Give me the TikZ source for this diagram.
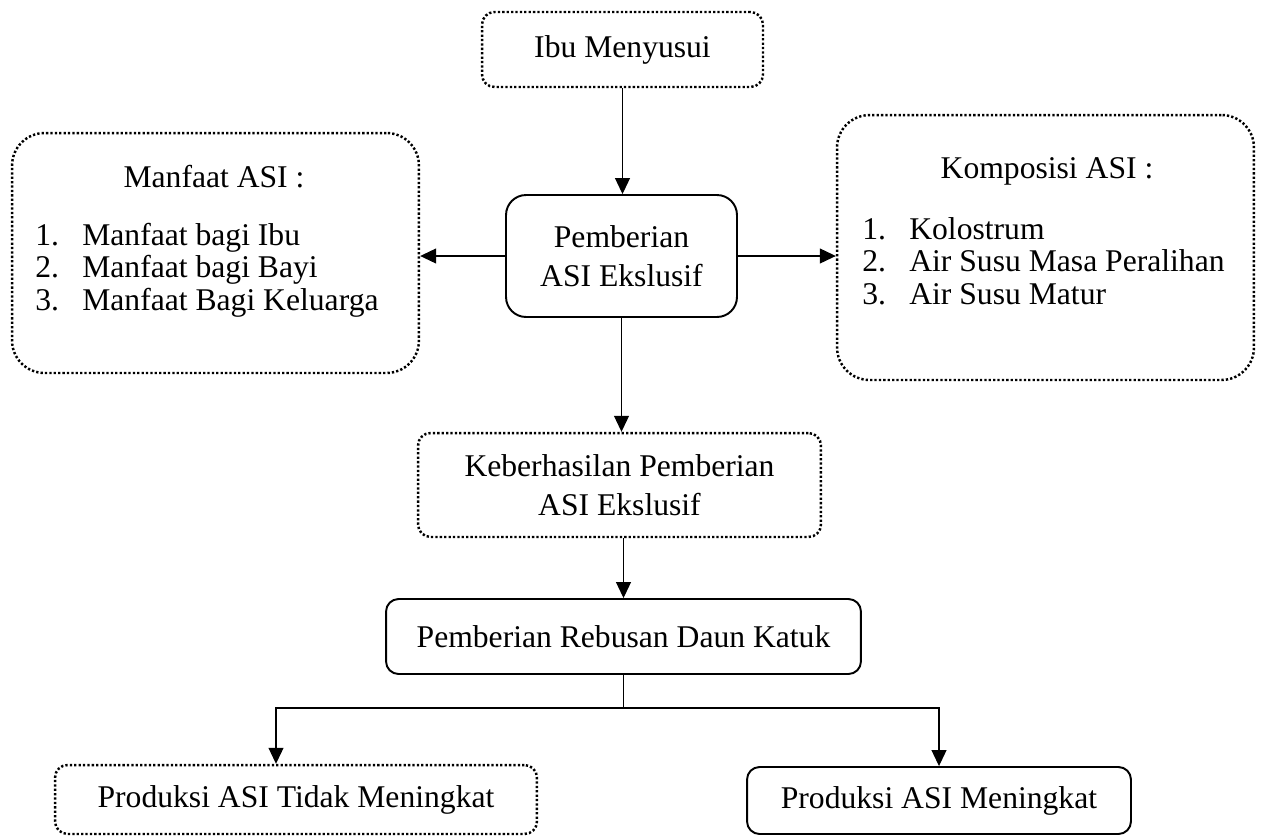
\documentclass[tikz,border=0pt]{standalone}
\usepackage{fontspec}
\setmainfont{Liberation Serif}
\usepackage{tikz}
\usetikzlibrary{arrows.meta}
\tikzset{
  dotbox/.style={draw,line width=1.4pt,dash pattern=on 1.3pt off 1.2pt,rounded corners=0.25cm,align=center,inner sep=0pt},
  solbox/.style={draw,line width=1.1pt,rounded corners=0.25cm,align=center,inner sep=0pt},
  daftar/.style={inner sep=0pt,font=\fontsize{18}{18.7}\selectfont},
  judul/.style={inner sep=0pt,anchor=base},
  ar/.style={-{Triangle[length=0.32cm,width=0.3cm]},line width=0.6pt},
}
\newcommand{\nomor}[1]{\makebox[0.94cm][l]{#1}}
\begin{document}
\begin{tikzpicture}[x=0.02cm,y=-0.02cm,font=\fontsize{18}{22.1}\selectfont]
  \useasboundingbox (0,0) rectangle (1261,836);
  % kotak
  \node[dotbox,minimum width=5.62cm,minimum height=1.5cm] (ibu) at (622.5,49.5) {Ibu Menyusui};
  \node[solbox,rounded corners=0.4cm,minimum width=4.62cm,minimum height=2.44cm] (pemberian) at (621.5,256) {Pemberian\\ASI Ekslusif};
  \node[dotbox,rounded corners=0.65cm,minimum width=8.14cm,minimum height=4.8cm] (manfaat) at (215.5,253) {};
  \node[dotbox,rounded corners=0.65cm,minimum width=8.34cm,minimum height=5.3cm] (komposisi) at (1045.5,247.5) {};
  \node[dotbox,minimum width=8.06cm,minimum height=2.08cm] (keberhasilan) at (619.5,485) {Keberhasilan Pemberian\\ASI Ekslusif};
  \node[solbox,minimum width=9.5cm,minimum height=1.5cm] (rebusan) at (623.5,636.5) {Pemberian Rebusan Daun Katuk};
  \node[dotbox,minimum width=9.64cm,minimum height=1.38cm] (tidak) at (296,799.5) {Produksi ASI Tidak Meningkat};
  \node[solbox,minimum width=7.68cm,minimum height=1.34cm] (meningkat) at (939,800.5) {Produksi ASI Meningkat};
  % isi kotak samping
  \node[judul] (manfaatjudul) at (214,187) {Manfaat ASI :};
  \node[daftar,anchor=base west] (manfaatisi) at (35,245) {\begin{tabular}[t]{@{}l@{}}
    \nomor{1.}Manfaat bagi Ibu\\
    \nomor{2.}Manfaat bagi Bayi\\
    \nomor{3.}Manfaat Bagi Keluarga
  \end{tabular}};
  \node[judul] (komposisijudul) at (1047,178) {Komposisi ASI :};
  \node[daftar,anchor=base west] (komposisiisi) at (862,239) {\begin{tabular}[t]{@{}l@{}}
    \nomor{1.}Kolostrum\\
    \nomor{2.}Air Susu Masa Peralihan\\
    \nomor{3.}Air Susu Matur
  \end{tabular}};
  % panah
  \draw[ar] (ibu.south) -- (ibu.south |- pemberian.north);
  \draw[ar] (pemberian.west) -- (pemberian.west -| manfaat.east);
  \draw[ar] (pemberian.east) -- (pemberian.east -| komposisi.west);
  \draw[ar] (pemberian.south) -- (pemberian.south |- keberhasilan.north);
  \draw[ar] (rebusan.north |- keberhasilan.south) -- (rebusan.north);
  \coordinate (cabang) at (623.5,708);
  \draw[line width=0.6pt] (rebusan.south) -- (cabang);
  \draw[ar] (cabang) -| ([xshift=-0.4cm]tidak.north);
  \draw[ar] (cabang) -| (meningkat.north);
\end{tikzpicture}
\end{document}
